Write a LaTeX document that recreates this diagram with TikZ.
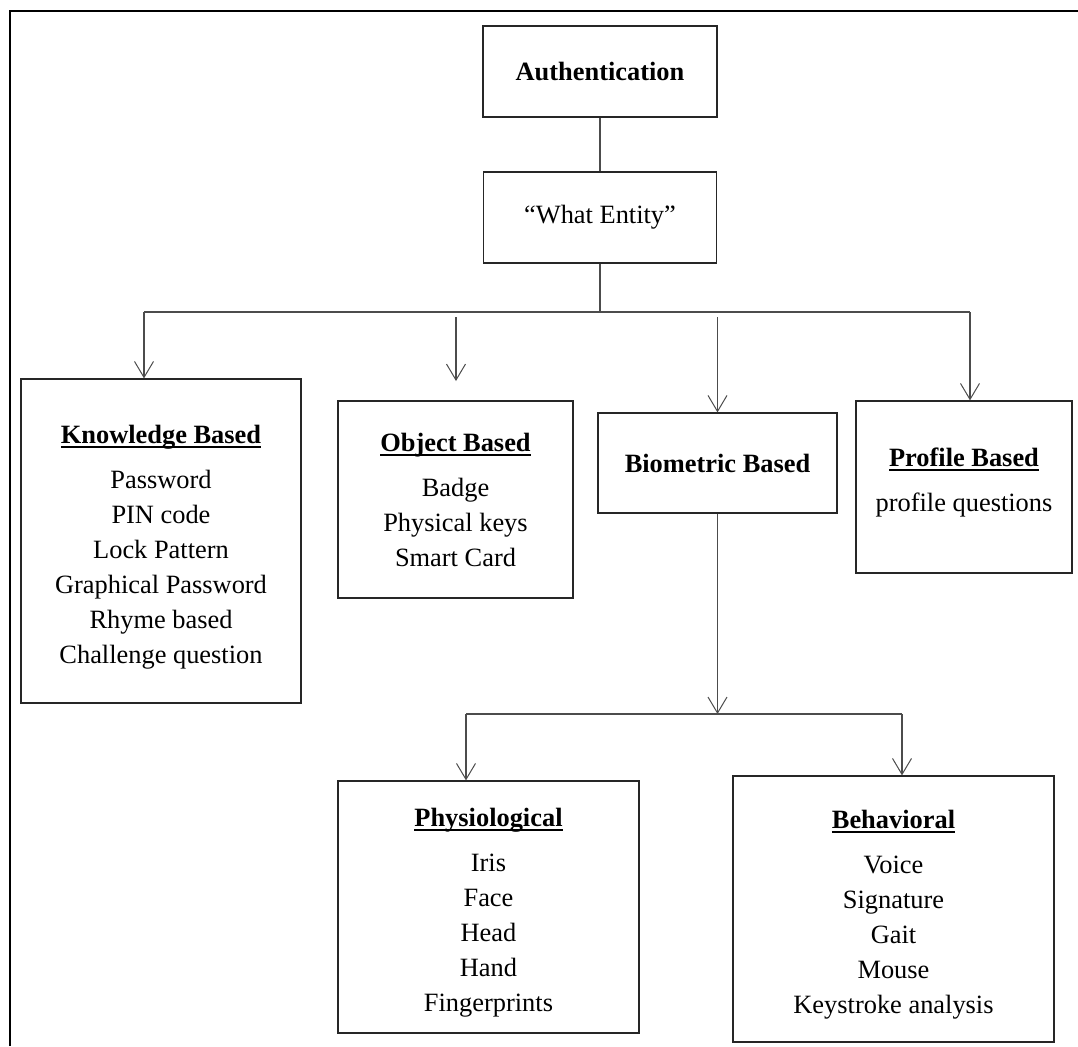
\documentclass[tikz,border=0pt]{standalone}
\usepackage{fontspec}
\setmainfont{Liberation Serif}
\usetikzlibrary{arrows.meta}

\newsavebox{\hdbox}
\newcommand{\hd}[1]{\sbox{\hdbox}{\textbf{#1}}\rule{0pt}{15pt}\rlap{\rule[-2.4pt]{\wd\hdbox}{1pt}}\usebox{\hdbox}}
\newcommand{\dn}[1]{\rule[-#1]{0pt}{0pt}}

\tikzset{
  box/.style={draw=black!85, line width=0.6pt, rectangle, align=center, inner sep=0pt,
    font=\fontsize{13.2}{17.5}\selectfont},
  link/.style={draw=black!70, line width=0.6pt},
  arr/.style={link, -{Straight Barb[length=8pt, width=9.5pt, line width=0.5pt]}},
}

\begin{document}
\begin{tikzpicture}[x=0.5pt, y=-0.5pt]

\useasboundingbox (0,0) rectangle (1078,1046);
\draw[line width=1pt] (10,1046) |- (1078,11);

% top
\node[box, minimum width=117pt, minimum height=45.5pt] (auth) at (600, 71.5) {\textbf{Authentication}};
\node[box, minimum width=116.5pt, minimum height=45.5pt] (what) at (600, 217.5) {“What Entity”};

\draw[link] (auth) -- (what);

% second row
\node[box, minimum width=140pt, minimum height=162pt] (know) at (161, 541)
  {\hd{Knowledge Based}\\[5pt] Password\\ PIN code\\ Lock Pattern\\ Graphical Password\\ Rhyme based\\ Challenge question};
\node[box, minimum width=117.5pt, minimum height=98.5pt] (obj) at (455.5, 499.5)
  {\hd{Object Based}\\[5pt] Badge\\ Physical keys\\ Smart Card\dn{6pt}};
\node[box, minimum width=119.5pt, minimum height=50pt] (bio) at (717.5, 463) {\textbf{Biometric Based}};
\node[box, minimum width=108pt, minimum height=86pt] (prof) at (964, 487)
  {\hd{Profile Based}\\[5pt] profile questions\dn{13pt}};

\coordinate (branch) at (600, 312);
\coordinate (brL) at (144, 312);
\coordinate (brR) at (970, 312);
\coordinate (objtop) at (456, 317);
\coordinate (objtip) at (456, 381);

\draw[link] (what) -- (branch);
\draw[link] (brL) -- (brR);
\draw[arr] (brL) -- (brL |- know.north);
\draw[arr] (objtop) -- (objtip);
\draw[arr] (bio.north |- objtop) -- (bio.north);
\draw[arr] (brR) -- (brR |- prof.north);

% biometric split
\node[box, minimum width=150.5pt, minimum height=126pt] (phys) at (488.5, 907)
  {\hd{Physiological}\\[5pt] Iris\\ Face\\ Head\\ Hand\\ Fingerprints};
\node[box, minimum width=160.5pt, minimum height=133pt] (beh) at (893.5, 909)
  {\hd{Behavioral}\\[5pt] Voice\\ Signature\\ Gait\\ Mouse\\ Keystroke analysis};

\coordinate (splitM) at (718, 714);
\coordinate (splitL) at (466, 714);
\coordinate (splitR) at (902, 714);

\draw[arr] (bio) -- (bio |- splitM);
\draw[link] (splitL) -- (splitR);
\draw[arr] (splitL) -- (splitL |- phys.north);
\draw[arr] (splitR) -- (splitR |- beh.north);

\end{tikzpicture}
\end{document}
